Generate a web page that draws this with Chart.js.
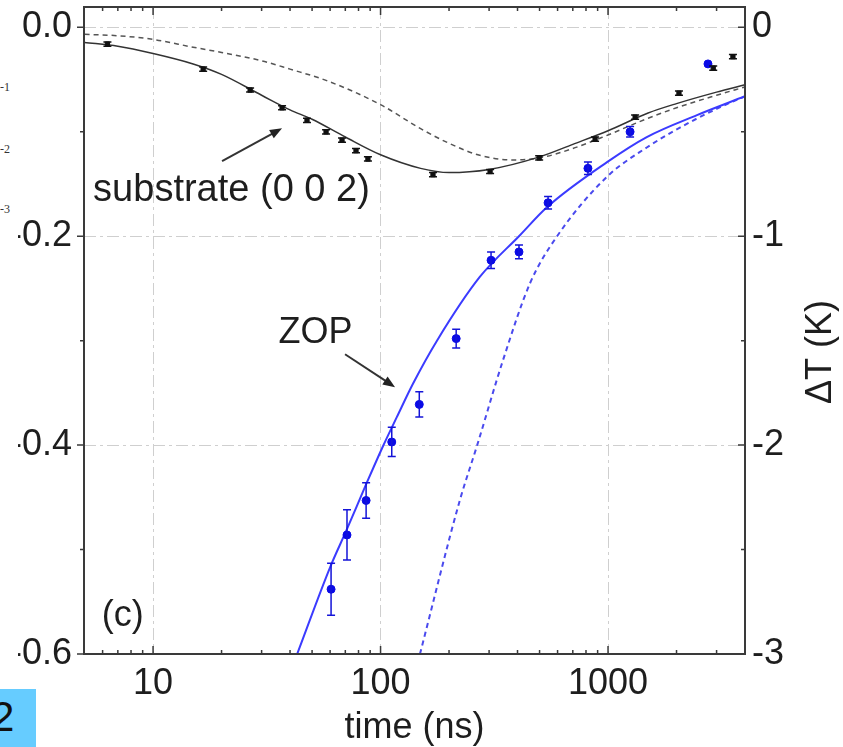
<!DOCTYPE html>
<html lang="en">
<head>
<meta charset="UTF-8">
<title>substrate (0 0 2) / ZOP</title>
<script src="https://cdn.jsdelivr.net/npm/chart.js@4.4.0/dist/chart.umd.min.js"></script>
<style>
  html, body { margin: 0; padding: 0; background: #fff; }
  #wrap { position: relative; width: 843px; height: 747px; overflow: hidden; }
  #wrap canvas { position: absolute; left: 0; top: 0; }
  .mask { position: absolute; left: 0; top: 0; width: 18px; height: 684px; background: #fff; }
  .sup { position: absolute; left: 0; font: 12px "Liberation Serif", serif; color: #333; }
  .page { position: absolute; left: 0; top: 689px; width: 36px; height: 58px; background: #66ccff; overflow: hidden; }
  .page span { position: absolute; left: -9px; top: 4px; font: 42px "Liberation Sans", sans-serif; color: #111; }
</style>
</head>
<body>
<div id="wrap">
  <canvas id="grafico" width="843" height="747"></canvas>
  <div class="mask">
    <span class="sup" style="top:80px">-1</span>
    <span class="sup" style="top:142px">-2</span>
    <span class="sup" style="top:202px">-3</span>
  </div>
  <div class="page"><span>2</span></div>
</div>

<script>
  // dados (tempo em ns, deslocamento no eixo esquerdo)
  const subTime  = [6.3, 16.6, 26.7, 36.9, 47.5, 57.6, 67.7, 78, 88, 170, 303, 498, 877, 1315, 2050, 2900, 3540];
  const subShift = [-0.016, -0.040, -0.060, -0.077, -0.089, -0.100, -0.108, -0.118, -0.126, -0.141, -0.138, -0.125, -0.107, -0.086, -0.063, -0.039, -0.028];
  const subErr   = [0.002, 0.002, 0.002, 0.002, 0.002, 0.002, 0.002, 0.002, 0.002, 0.002, 0.002, 0.002, 0.002, 0.002, 0.002, 0.002, 0.002];

  const zopTime  = [60.6, 71.2, 86.4, 112, 148, 215, 306, 406, 545, 816, 1250, 2750];
  const zopShift = [-0.538, -0.486, -0.453, -0.397, -0.361, -0.298, -0.223, -0.215, -0.168, -0.135, -0.100, -0.035];
  const zopErr   = [0.025, 0.024, 0.017, 0.014, 0.012, 0.009, 0.008, 0.0065, 0.006, 0.006, 0.005, 0];

  // curvas (ajustes) lidas ponto a ponto
  const subFitTime  = [5, 7, 10, 15, 20, 30, 40, 50, 70, 100, 150, 200, 300, 500, 700, 1000, 1500, 2000, 3000, 4000];
  const subFitShift = [-0.0144, -0.018, -0.025, -0.035, -0.045, -0.065, -0.079, -0.088, -0.105, -0.122, -0.135, -0.139, -0.136, -0.124, -0.112, -0.099, -0.082, -0.073, -0.062, -0.055];

  const subDashTime  = [5, 7, 10, 15, 20, 30, 40, 58, 100, 150, 200, 273, 380, 500, 700, 1000, 1500, 2000, 3000, 4000];
  const subDashShift = [-0.0067, -0.008, -0.0115, -0.019, -0.024, -0.032, -0.040, -0.051, -0.074, -0.097, -0.111, -0.1225, -0.127, -0.125, -0.116, -0.103, -0.087, -0.077, -0.065, -0.057];

  const zopFitTime  = [43, 60, 71, 87, 102, 118, 139, 177, 273, 410, 540, 990, 1480, 2460, 4000];
  const zopFitShift = [-0.600, -0.517, -0.481, -0.436, -0.402, -0.373, -0.341, -0.300, -0.239, -0.199, -0.172, -0.129, -0.105, -0.084, -0.066];

  const zopDashTime  = [149, 223, 266, 345, 454, 597, 990, 1480, 2070, 3000, 4000];
  const zopDashShift = [-0.600, -0.453, -0.400, -0.319, -0.245, -0.200, -0.143, -0.115, -0.096, -0.078, -0.066];

  // eixos
  const xMajor = [10, 100, 1000];
  const xMinor = [6, 7, 8, 9, 20, 30, 40, 50, 60, 70, 80, 90, 200, 300, 400, 500, 600, 700, 800, 900, 2000, 3000, 4000];
  const yMajor = [0, -0.2, -0.4, -0.6];
  const yMinor = [-0.1, -0.3, -0.5];
  const y2Major = [0, -1, -2, -3];

  const FONTE = '"Liberation Sans", Arial, sans-serif';
  const COR_TEXTO = '#1e1e1e';

  function pares(xs, ys) {
    return xs.map((x, i) => ({ x: x, y: ys[i] }));
  }

  const errorBars = {
    id: 'errorBars',
    afterDatasetsDraw(chart) {
      const ctx = chart.ctx;
      const ys = chart.scales.y;
      chart.data.datasets.forEach((ds, i) => {
        if (!ds.errors) return;
        const meta = chart.getDatasetMeta(i);
        ctx.save();
        ctx.strokeStyle = ds.errorColor;
        ctx.lineWidth = 1.5;
        meta.data.forEach((pt, j) => {
          const e = ds.errors[j];
          if (!e) return;
          const v = ds.data[j].y;
          const y1 = ys.getPixelForValue(v + e);
          const y2 = ys.getPixelForValue(v - e);
          ctx.beginPath();
          ctx.moveTo(pt.x, y1); ctx.lineTo(pt.x, y2);
          ctx.moveTo(pt.x - 4, y1); ctx.lineTo(pt.x + 4, y1);
          ctx.moveTo(pt.x - 4, y2); ctx.lineTo(pt.x + 4, y2);
          ctx.stroke();
        });
        ctx.restore();
      });
    }
  };

  const moldura = {
    id: 'moldura',
    afterDraw(chart) {
      const { ctx, chartArea: a, scales } = chart;
      ctx.save();
      ctx.strokeStyle = '#3a3a3a';
      ctx.lineWidth = 1.5;
      ctx.beginPath();
      xMajor.forEach(v => {
        const px = scales.x.getPixelForValue(v);
        ctx.moveTo(px, a.bottom); ctx.lineTo(px, a.bottom - 8);
        ctx.moveTo(px, a.top); ctx.lineTo(px, a.top + 8);
      });
      xMinor.forEach(v => {
        const px = scales.x.getPixelForValue(v);
        ctx.moveTo(px, a.bottom); ctx.lineTo(px, a.bottom - 4);
        ctx.moveTo(px, a.top); ctx.lineTo(px, a.top + 4);
      });
      yMajor.forEach(v => {
        const py = scales.y.getPixelForValue(v);
        ctx.moveTo(a.left, py); ctx.lineTo(a.left - 7, py);
        ctx.moveTo(a.right, py); ctx.lineTo(a.right - 7, py);
      });
      yMinor.forEach(v => {
        const py = scales.y.getPixelForValue(v);
        ctx.moveTo(a.left, py); ctx.lineTo(a.left - 4, py);
        ctx.moveTo(a.right, py); ctx.lineTo(a.right - 4, py);
      });
      ctx.stroke();
      ctx.lineWidth = 2;
      ctx.strokeRect(a.left, a.top, a.right - a.left, a.bottom - a.top);

      // titulo do eixo direito, lido de baixo para cima
      ctx.fillStyle = COR_TEXTO;
      ctx.font = '36px ' + FONTE;
      ctx.textAlign = 'center';
      ctx.textBaseline = 'middle';
      ctx.translate(a.right + 76, 352);
      ctx.rotate(-Math.PI / 2);
      ctx.fillText('\u0394T (K)', 0, 0);
      ctx.restore();
    }
  };

  function seta(ctx, x1, y1, x2, y2) {
    const ang = Math.atan2(y2 - y1, x2 - x1);
    const len = 13, abertura = 0.38;
    ctx.beginPath();
    ctx.moveTo(x1, y1);
    ctx.lineTo(x2 - Math.cos(ang) * len * 0.8, y2 - Math.sin(ang) * len * 0.8);
    ctx.stroke();
    ctx.beginPath();
    ctx.moveTo(x2, y2);
    ctx.lineTo(x2 - len * Math.cos(ang - abertura), y2 - len * Math.sin(ang - abertura));
    ctx.lineTo(x2 - len * Math.cos(ang + abertura), y2 - len * Math.sin(ang + abertura));
    ctx.closePath();
    ctx.fill();
  }

  const anotacoes = {
    id: 'anotacoes',
    afterDatasetsDraw(chart) {
      const { ctx, scales } = chart;
      const px = t => scales.x.getPixelForValue(t);
      const py = v => scales.y.getPixelForValue(v);
      ctx.save();
      ctx.fillStyle = COR_TEXTO;
      ctx.textAlign = 'left';
      ctx.textBaseline = 'alphabetic';
      ctx.font = '38px ' + FONTE;
      ctx.fillText('substrate (0 0 2)', px(5.45), py(-0.1665));
      ctx.font = '36px ' + FONTE;
      ctx.fillText('ZOP', px(35.6), py(-0.302));
      ctx.fillText('(c)', px(5.95), py(-0.573));
      ctx.strokeStyle = '#333';
      ctx.fillStyle = '#222';
      ctx.lineWidth = 2;
      seta(ctx, px(20.1), py(-0.128), px(36.9), py(-0.0967));
      seta(ctx, px(69.8), py(-0.313), px(115.8), py(-0.3445));
      ctx.restore();
    }
  };

  const tickFont = { family: FONTE, size: 36 };

  // tira o espaco extra que o Chart.js reserva para os rotulos das pontas
  function semSobra(s) {
    s.paddingTop = 0;
    s.paddingBottom = 0;
  }

  const config = {
    type: 'scatter',
    data: {
      datasets: [
        {
          label: 'ZOP',
          data: pares(zopTime, zopShift),
          errors: zopErr,
          errorColor: '#1414d8',
          backgroundColor: '#0a0ae6',
          borderColor: '#0a0ae6',
          pointRadius: 4,
          pointStyle: 'circle'
        },
        {
          label: 'substrate',
          data: pares(subTime, subShift),
          errors: subErr,
          errorColor: '#111',
          backgroundColor: '#111',
          borderColor: '#111',
          pointRadius: 3,
          pointStyle: 'rect'
        },
        {
          label: 'ZOP ajuste',
          data: pares(zopFitTime, zopFitShift),
          showLine: true,
          borderColor: '#3b3bff',
          borderWidth: 2,
          pointRadius: 0,
          cubicInterpolationMode: 'monotone'
        },
        {
          label: 'ZOP tracejada',
          data: pares(zopDashTime, zopDashShift),
          showLine: true,
          borderColor: '#4a4aee',
          borderWidth: 2,
          borderDash: [5, 4],
          pointRadius: 0,
          cubicInterpolationMode: 'monotone'
        },
        {
          label: 'substrate ajuste',
          data: pares(subFitTime, subFitShift),
          showLine: true,
          borderColor: '#333',
          borderWidth: 1.5,
          pointRadius: 0,
          cubicInterpolationMode: 'monotone'
        },
        {
          label: 'substrate tracejada',
          data: pares(subDashTime, subDashShift),
          showLine: true,
          borderColor: '#555',
          borderWidth: 1.5,
          borderDash: [5, 4],
          pointRadius: 0,
          cubicInterpolationMode: 'monotone'
        }
      ]
    },
    options: {
      responsive: false,
      animation: false,
      layout: { padding: { top: 7, left: 0, right: 0, bottom: 0 } },
      plugins: {
        legend: { display: false },
        tooltip: { enabled: false }
      },
      scales: {
        x: {
          type: 'logarithmic',
          min: 4.97,
          max: 4000,
          afterBuildTicks: s => { s.ticks = xMajor.map(v => ({ value: v })); },
          afterFit: s => { s.height = 93; s.paddingLeft = 0; s.paddingRight = 0; },
          grid: { color: '#cfcfcf', lineWidth: 1, drawTicks: false },
          border: { display: false, dash: [12, 4, 3, 4] },
          ticks: {
            font: tickFont, color: COR_TEXTO, padding: 8,
            maxRotation: 0, autoSkip: false,
            callback: v => String(v)
          },
          title: { display: true, text: 'time (ns)', font: tickFont, color: COR_TEXTO, padding: { top: 0, bottom: -3 } }
        },
        y: {
          type: 'linear',
          position: 'left',
          min: -0.6,
          max: 0.0195,
          afterBuildTicks: s => { s.ticks = yMajor.map(v => ({ value: v })); },
          afterFit: s => { s.width = 84; semSobra(s); },
          grid: { color: '#cfcfcf', lineWidth: 1, drawTicks: false },
          border: { display: false, dash: [12, 4, 3, 4] },
          ticks: {
            font: tickFont, color: COR_TEXTO, padding: 12,
            callback: v => v === 0 ? '0.0' : v.toFixed(1)
          }
        },
        y2: {
          type: 'linear',
          position: 'right',
          min: -3,
          max: 0.0975,
          afterBuildTicks: s => { s.ticks = y2Major.map(v => ({ value: v })); },
          afterFit: s => { s.width = 98; semSobra(s); },
          grid: { display: false, drawTicks: false },
          border: { display: false },
          ticks: {
            font: tickFont, color: COR_TEXTO, padding: 7,
            callback: v => String(v)
          }
        }
      }
    },
    plugins: [errorBars, anotacoes, moldura]
  };

  const myChart = new Chart(document.getElementById('grafico'), config);
</script>
</body>
</html>
